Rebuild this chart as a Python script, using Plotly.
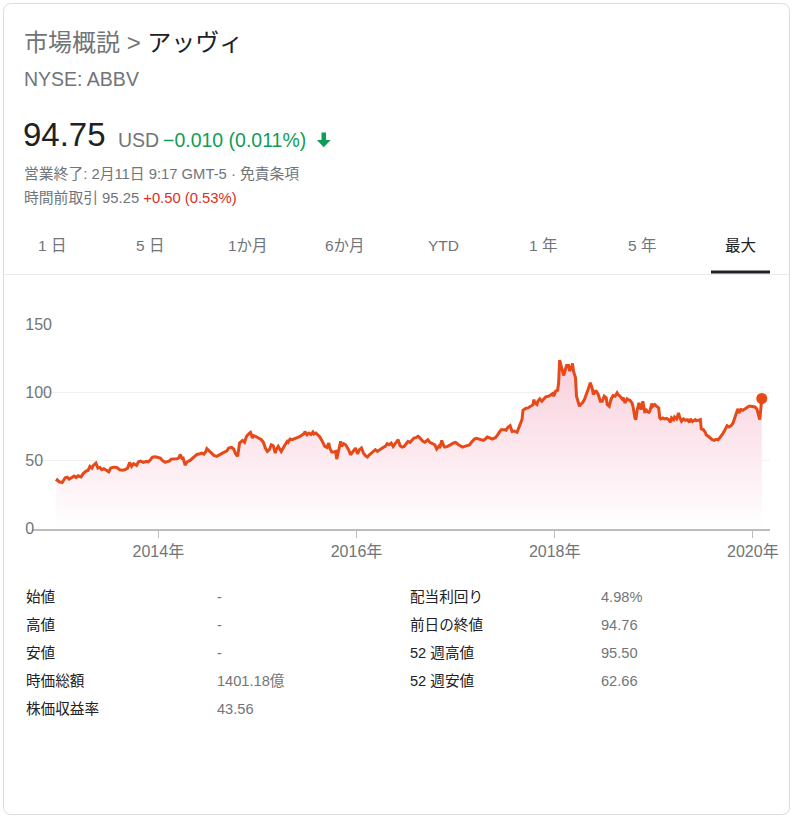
import plotly.graph_objects as go

# ---------------- data ----------------
years = [
    2012.97, 2012.98, 2013.00, 2013.03, 2013.06, 2013.08, 2013.10, 2013.13, 2013.15, 2013.17,
    2013.19, 2013.22, 2013.24, 2013.27, 2013.29, 2013.31, 2013.33, 2013.34, 2013.37, 2013.39,
    2013.41, 2013.43, 2013.45, 2013.48, 2013.50, 2013.52, 2013.55, 2013.58, 2013.61, 2013.64,
    2013.66, 2013.69, 2013.71, 2013.73, 2013.75, 2013.78, 2013.80, 2013.82, 2013.85, 2013.88,
    2013.90, 2013.92, 2013.94, 2013.97, 2013.99, 2014.02, 2014.04, 2014.07, 2014.08, 2014.11,
    2014.13, 2014.16, 2014.19, 2014.21, 2014.22, 2014.24, 2014.25, 2014.27, 2014.29, 2014.32,
    2014.35, 2014.37, 2014.39, 2014.42, 2014.44, 2014.46, 2014.48, 2014.49, 2014.51, 2014.54,
    2014.56, 2014.59, 2014.62, 2014.64, 2014.66, 2014.69, 2014.71, 2014.74, 2014.76, 2014.78,
    2014.80, 2014.82, 2014.85, 2014.87, 2014.89, 2014.92, 2014.93, 2014.95, 2014.96, 2014.98,
    2015.01, 2015.04, 2015.06, 2015.08, 2015.10, 2015.12, 2015.14, 2015.16, 2015.18, 2015.19,
    2015.21, 2015.23, 2015.24, 2015.26, 2015.28, 2015.30, 2015.31, 2015.33, 2015.35, 2015.37,
    2015.40, 2015.42, 2015.45, 2015.47, 2015.48, 2015.50, 2015.52, 2015.54, 2015.56, 2015.57,
    2015.59, 2015.61, 2015.63, 2015.65, 2015.67, 2015.68, 2015.70, 2015.72, 2015.73, 2015.75,
    2015.77, 2015.79, 2015.80, 2015.82, 2015.84, 2015.85, 2015.87, 2015.89, 2015.92, 2015.94,
    2015.96, 2015.98, 2015.99, 2016.01, 2016.03, 2016.05, 2016.07, 2016.09, 2016.11, 2016.13,
    2016.15, 2016.17, 2016.19, 2016.21, 2016.24, 2016.26, 2016.29, 2016.31, 2016.33, 2016.35,
    2016.37, 2016.40, 2016.42, 2016.44, 2016.46, 2016.48, 2016.50, 2016.52, 2016.54, 2016.56,
    2016.58, 2016.60, 2016.62, 2016.63, 2016.65, 2016.67, 2016.69, 2016.72, 2016.74, 2016.77,
    2016.79, 2016.81, 2016.83, 2016.84, 2016.86, 2016.88, 2016.89, 2016.92, 2016.94, 2016.96,
    2016.98, 2017.00, 2017.03, 2017.05, 2017.07, 2017.09, 2017.12, 2017.14, 2017.16, 2017.19,
    2017.21, 2017.24, 2017.26, 2017.28, 2017.30, 2017.32, 2017.35, 2017.37, 2017.40, 2017.42,
    2017.44, 2017.46, 2017.49, 2017.51, 2017.53, 2017.55, 2017.57, 2017.59, 2017.62, 2017.63,
    2017.65, 2017.67, 2017.68, 2017.71, 2017.73, 2017.76, 2017.78, 2017.79, 2017.80, 2017.82,
    2017.83, 2017.85, 2017.87, 2017.89, 2017.91, 2017.94, 2017.96, 2017.98, 2017.99, 2018.01,
    2018.03, 2018.04, 2018.05, 2018.07, 2018.09, 2018.11, 2018.12, 2018.14, 2018.15, 2018.17,
    2018.18, 2018.19, 2018.21, 2018.22, 2018.23, 2018.25, 2018.26, 2018.28, 2018.30, 2018.32,
    2018.34, 2018.36, 2018.38, 2018.39, 2018.41, 2018.42, 2018.44, 2018.46, 2018.48, 2018.50,
    2018.52, 2018.53, 2018.55, 2018.57, 2018.59, 2018.61, 2018.63, 2018.64, 2018.66, 2018.68,
    2018.69, 2018.71, 2018.73, 2018.74, 2018.76, 2018.78, 2018.79, 2018.81, 2018.82, 2018.83,
    2018.85, 2018.87, 2018.88, 2018.89, 2018.91, 2018.92, 2018.93, 2018.95, 2018.96, 2018.98,
    2018.99, 2019.01, 2019.03, 2019.05, 2019.06, 2019.07, 2019.09, 2019.11, 2019.13, 2019.15,
    2019.17, 2019.18, 2019.20, 2019.21, 2019.23, 2019.25, 2019.26, 2019.28, 2019.30, 2019.32,
    2019.34, 2019.36, 2019.37, 2019.39, 2019.42, 2019.43, 2019.45, 2019.47, 2019.48, 2019.50,
    2019.52, 2019.53, 2019.55, 2019.57, 2019.59, 2019.61, 2019.63, 2019.65, 2019.67, 2019.69,
    2019.71, 2019.73, 2019.74, 2019.76, 2019.78, 2019.80, 2019.82, 2019.84, 2019.85, 2019.86,
    2019.88, 2019.90, 2019.92, 2019.94, 2019.96, 2019.98, 2020.00, 2020.02, 2020.04, 2020.06,
    2020.07, 2020.09,
]

prices = [
    34.6, 35.8, 34.3, 33.8, 37.3, 37.8, 36.3, 38.0, 38.5, 37.5,
    38.8, 38.0, 40.2, 42.2, 42.7, 45.6, 44.4, 46.1, 48.1, 44.4,
    44.9, 43.2, 43.9, 42.7, 41.7, 44.4, 45.1, 44.9, 43.2, 42.9,
    43.2, 44.4, 48.6, 45.6, 47.6, 46.3, 49.0, 49.5, 48.6, 49.3,
    49.0, 50.5, 52.5, 52.7, 52.5, 51.7, 50.0, 48.6, 49.0, 49.5,
    51.0, 51.0, 51.3, 52.2, 54.4, 51.5, 51.7, 46.6, 49.0, 50.0,
    51.7, 53.5, 54.4, 54.9, 55.4, 54.7, 56.6, 58.6, 57.1, 54.9,
    53.7, 53.0, 54.4, 55.4, 55.9, 56.9, 59.1, 59.6, 58.4, 54.9,
    53.0, 62.8, 64.7, 63.3, 67.7, 70.1, 70.6, 66.4, 68.2, 67.7,
    66.7, 65.2, 63.3, 59.1, 56.6, 57.9, 61.5, 60.8, 55.4, 57.9,
    60.3, 58.4, 56.6, 59.1, 61.5, 64.0, 63.3, 65.7, 65.2, 65.7,
    66.4, 67.2, 68.7, 69.6, 71.1, 68.9, 70.1, 69.1, 70.9, 69.4,
    70.1, 68.9, 67.2, 64.7, 61.5, 60.3, 59.6, 62.8, 59.1, 56.2,
    56.2, 56.6, 51.0, 57.9, 64.0, 60.3, 62.3, 61.5, 57.9, 54.2,
    55.9, 58.4, 59.1, 54.9, 57.9, 59.1, 55.4, 53.5, 52.5, 54.2,
    55.4, 56.6, 57.9, 56.6, 58.4, 59.1, 60.3, 62.3, 61.5, 62.8,
    60.3, 62.8, 65.2, 60.8, 59.8, 60.3, 62.3, 64.0, 63.3, 64.7,
    66.4, 66.7, 67.7, 67.2, 65.2, 64.0, 63.3, 65.2, 63.3, 62.3,
    61.5, 58.4, 60.3, 59.1, 64.7, 60.8, 59.8, 60.3, 61.5, 62.0,
    62.8, 63.3, 61.5, 60.3, 59.8, 60.3, 60.8, 61.3, 63.3, 65.7,
    66.2, 65.7, 65.2, 64.7, 65.7, 67.2, 66.4, 65.7, 66.7, 68.2,
    70.6, 72.6, 72.6, 72.1, 74.5, 75.5, 71.3, 71.6, 70.6, 72.6,
    75.0, 79.9, 86.8, 88.3, 88.5, 90.2, 90.7, 94.6, 92.2, 91.0,
    93.4, 95.1, 93.4, 95.1, 96.6, 97.1, 98.3, 99.0, 97.1, 100.8,
    101.5, 106.9, 123.6, 117.9, 112.3, 117.2, 119.6, 119.6, 115.5, 117.9,
    121.1, 115.5, 110.6, 97.1, 94.6, 89.7, 91.0, 92.2, 94.6, 99.5,
    102.5, 106.9, 102.5, 98.3, 100.8, 100.8, 98.3, 93.4, 93.4, 97.1,
    95.9, 91.0, 89.7, 95.1, 97.6, 97.1, 99.5, 98.3, 97.1, 95.1,
    96.1, 92.2, 95.1, 94.6, 94.1, 92.2, 89.7, 81.2, 79.9, 86.1,
    92.2, 87.3, 90.2, 93.4, 84.8, 87.8, 86.1, 85.3, 86.1, 91.7,
    89.7, 91.0, 89.7, 88.5, 81.2, 80.4, 81.2, 80.4, 80.9, 79.9,
    78.0, 81.2, 79.9, 81.9, 80.4, 84.8, 81.9, 78.7, 80.4, 79.4,
    79.9, 78.0, 80.4, 78.5, 79.9, 79.2, 79.4, 79.9, 73.1, 72.6,
    70.6, 68.7, 67.7, 66.4, 65.2, 64.7, 65.5, 65.2, 66.9, 68.9,
    71.3, 73.8, 75.5, 74.5, 75.5, 77.5, 82.4, 86.1, 87.8, 84.8,
    87.3, 86.8, 87.8, 88.5, 89.7, 89.7, 89.2, 89.2, 87.8, 82.9,
    79.9, 95.4,
]

y_ticks = [0, 50, 100, 150]
x_tick_years = [2014, 2016, 2018, 2020]
x_tick_labels = ["2014年", "2016年", "2018年", "2020年"]

tab_labels = ["1 日", "5 日", "1か月", "6か月", "YTD", "1 年", "5 年", "最大"]

left_stat_labels = ["始値", "高値", "安値", "時価総額", "株価収益率"]
left_stat_values = ["-", "-", "-", "1401.18億", "43.56"]
right_stat_labels = ["配当利回り", "前日の終値", "52 週高値", "52 週安値"]
right_stat_values = ["4.98%", "94.76", "95.50", "62.66"]

# ---------------- styling ----------------
W, H = 793, 818
FONT = "Arial, 'Liberation Sans', 'Noto Sans CJK JP', sans-serif"
GRAY = "#70757a"
DARK = "#202124"
GREEN = "#0f9d58"
RED = "#d93025"
LINE = "#e64a19"


def px(x):
    return x / W


def py(y):
    return 1 - y / H


fig = go.Figure()

fig.add_trace(go.Scatter(
    x=years, y=prices, mode="lines",
    line=dict(color=LINE, width=3),
    fill="tozeroy",
    fillgradient=dict(
        type="vertical", start=0, stop=125,
        colorscale=[[0, "rgba(255,255,255,1)"], [1, "rgb(249,206,219)"]],
    ),
    hoverinfo="skip", showlegend=False,
))
fig.add_trace(go.Scatter(
    x=[years[-1]], y=[prices[-1]], mode="markers",
    marker=dict(color=LINE, size=11),
    hoverinfo="skip", showlegend=False,
))

fig.update_layout(
    width=W, height=H, autosize=False,
    margin=dict(l=0, r=0, t=0, b=0, pad=0, autoexpand=False),
    paper_bgcolor="white", plot_bgcolor="white",
    font=dict(family=FONT, color=GRAY),
    xaxis=dict(
        domain=[px(32.3), px(770)],
        range=[2012.728, 2020.173],
        tickvals=x_tick_years, ticktext=x_tick_labels,
        ticks="outside", ticklen=7, tickwidth=1, tickcolor="#bdbdbd",
        showline=True, linecolor="#bdbdbd", linewidth=2,
        showgrid=False, zeroline=False, automargin=False,
        tickfont=dict(size=16, color=GRAY),
        fixedrange=True,
    ),
    yaxis=dict(
        domain=[py(528.7), py(324)],
        range=[0, 150],
        tickvals=y_ticks,
        ticklabelposition="inside", ticklabelstandoff=-10,
        ticklabeloverflow="allow", automargin=False,
        showgrid=True, gridcolor="#f1f1f1", gridwidth=1,
        zeroline=False, showline=False, ticks="",
        tickfont=dict(size=16, color=GRAY),
        fixedrange=True,
    ),
)

ann = []


def text(x, y, s, size, color, anchor="left"):
    ann.append(dict(
        x=px(x), y=py(y), xref="paper", yref="paper",
        xanchor=anchor, yanchor="middle", showarrow=False,
        text=s, font=dict(size=size, color=color, family=FONT),
    ))


text(22, 43, f"<span style='color:{GRAY}'>市場概説 &gt; </span><span style='color:{DARK}'>アッヴィ</span>", 24, DARK)
text(22, 79, "NYSE: ABBV", 19.5, GRAY)
text(21, 135, "94.75", 33, DARK)
text(116, 140, "USD", 19.5, GRAY)
text(161, 140, "−0.010 (0.011%)", 19.5, GREEN)
text(22, 174, "営業終了: 2月11日 9:17 GMT-5 · 免責条項", 14.8, GRAY)
text(22, 198, f"時間前取引 95.25 <span style='color:{RED}'>+0.50 (0.53%)</span>", 14.8, GRAY)

tab_x = [52, 150, 248, 345, 443, 542.5, 641.7, 740]
for i, (lab, tx) in enumerate(zip(tab_labels, tab_x)):
    text(tx, 245, lab, 15.5, DARK if i == len(tab_labels) - 1 else GRAY, anchor="center")

row_y = [597, 625, 653, 681, 709]
for lab, val, ry in zip(left_stat_labels, left_stat_values, row_y):
    text(24, ry, lab, 14.6, DARK)
    text(215, ry, val, 14.6, GRAY)
for lab, val, ry in zip(right_stat_labels, right_stat_values, row_y):
    text(408, ry, lab, 14.6, DARK)
    text(599, ry, val, 14.6, GRAY)

fig.update_layout(annotations=ann)


def path(points, close=True):
    s = "M " + " L ".join(f"{px(a)},{py(b)}" for a, b in points)
    return s + (" Z" if close else "")


# card border (rounded)
x0, y0, x1, y1, r = 3.5, 3.5, 789.5, 814.5, 8
card = (
    f"M {px(x0 + r)},{py(y0)} L {px(x1 - r)},{py(y0)} Q {px(x1)},{py(y0)} {px(x1)},{py(y0 + r)} "
    f"L {px(x1)},{py(y1 - r)} Q {px(x1)},{py(y1)} {px(x1 - r)},{py(y1)} "
    f"L {px(x0 + r)},{py(y1)} Q {px(x0)},{py(y1)} {px(x0)},{py(y1 - r)} "
    f"L {px(x0)},{py(y0 + r)} Q {px(x0)},{py(y0)} {px(x0 + r)},{py(y0)} Z"
)
shapes = [
    dict(type="path", xref="paper", yref="paper", path=card,
         line=dict(color="#dadce0", width=1), fillcolor="rgba(0,0,0,0)"),
    dict(type="line", xref="paper", yref="paper", x0=px(4), x1=px(789), y0=py(274.5), y1=py(274.5),
         line=dict(color="#e8eaed", width=1)),
    dict(type="rect", xref="paper", yref="paper", x0=px(711), x1=px(770), y0=py(273.5), y1=py(270.5),
         fillcolor=DARK, line=dict(width=0)),
    dict(type="path", xref="paper", yref="paper",
         path=path([(321.5, 132.5), (326, 132.5), (326, 140), (330.7, 140), (323.8, 147.3),
                    (316.8, 140), (321.5, 140)]),
         fillcolor=GREEN, line=dict(width=0)),
]
fig.update_layout(shapes=shapes)

fig.write_html(
    "out.html",
    config={"displayModeBar": False, "staticPlot": True},
    post_script="document.body.style.margin='0';document.body.style.overflow='hidden';",
)
